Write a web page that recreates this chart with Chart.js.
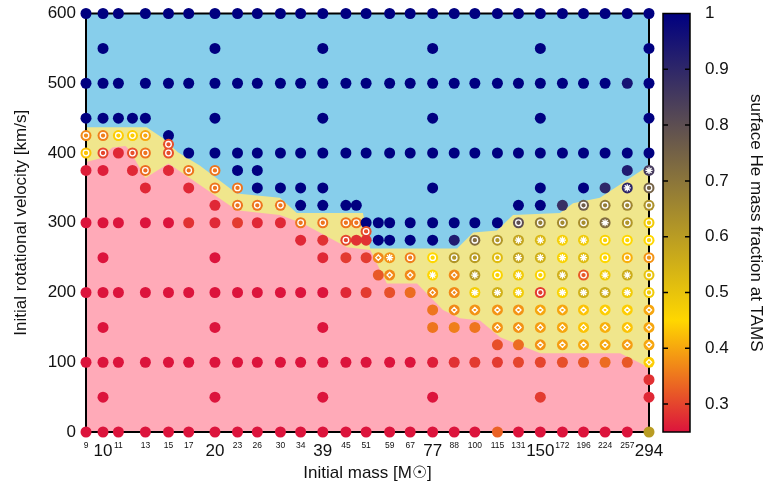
<!DOCTYPE html>
<html>
<head>
<meta charset="utf-8">
<script src="https://cdn.jsdelivr.net/npm/chart.js@4.4.1/dist/chart.umd.min.js"></script>
<style>
  html, body { margin: 0; padding: 0; background: #fff; }
</style>
</head>
<body>
<canvas id="chart" width="766" height="486"></canvas>
<script>
'use strict';

const _ = null;

// mass columns of the model grid (Msun)
const massGrid = [9, 10, 11, 12, 13, 15, 17, 20, 23, 26, 30, 34, 39, 45, 48, 51, 55, 59, 67, 77, 88, 100, 115, 131, 150, 172, 196, 224, 257, 294];
// labelled ticks on the mass axis
const massTicks = [9, 10, 11, 13, 15, 17, 20, 23, 26, 30, 34, 39, 45, 51, 59, 67, 77, 88, 100, 115, 131, 150, 172, 196, 224, 257, 294];
const bigTicks = [10, 20, 39, 77, 150, 294];
const heTicks = [0.3, 0.4, 0.5, 0.6, 0.7, 0.8, 0.9, 1];

// surface He mass fraction at TAMS, one array per initial velocity (columns = massGrid)
// marks: '.' plain, 'f' ring, 's' star, 'd' diamond
const he600 = [1, 1, 1, _, 1, 1, 1, 1, 1, 1,  1, 1, 1, 1, _, 1, _, 1, 1, 1,  1, 1, 1, 1, 1, 1, 1, 1, 1, 1];
const he550 = [_, 1, _, _, _, _, _, 1, _, _,  _, _, 1, _, _, _, _, _, _, 1,  _, _, _, _, 1, _, _, _, _, 1];
const he500 = [1, 1, 1, _, 1, 1, 1, 1, 1, 1,  1, 1, 1, 1, _, 1, _, 1, 1, 1,  1, 1, 1, 1, 1, 1, 1, 1, .95, 1];
const he450 = [1, 1, 1, 1, 1, _, _, 1, _, _,  _, _, 1, _, _, _, _, _, _, 1,  _, _, _, _, 1, _, _, _, _, 1];
const he425 = [.37, .36, .44, .44, .40, 1, _, _, _, _,  _, _, _, _, _, _, _, _, _, _,  _, _, _, _, _, _, _, _, _, _];
const mk425 = 'fffff';
const he412 = [_, _, _, _, _, .31, _, _, _, _,  _, _, _, _, _, _, _, _, _, _,  _, _, _, _, _, _, _, _, _, _];
const mk412 = '.....f';
const he400 = [.43, .30, .27, .31, .35, .31, 1, 1, 1, 1,  1, 1, 1, 1, _, 1, _, 1, 1, 1,  1, 1, 1, 1, 1, 1, 1, 1, 1, 1];
const mk400 = 'ff.fff';
const he375 = [.26, .26, _, .27, .34, .27, .35, .35, 1, 1,  _, _, _, _, _, _, _, _, _, _,  _, _, _, _, _, _, _, _, .93, .85];
const mk375 = '....f.ff..' + '..........' + '.........s';
const he350 = [_, _, _, _, .27, _, .27, .35, .35, 1,  1, 1, 1, _, _, _, _, _, _, 1,  _, _, _, _, 1, _, 1, .90, .90, .75];
const mk350 = '.......ff.' + '..........' + '........sf';
const he325 = [_, _, _, _, _, _, _, .27, .35, .35,  .35, 1, 1, 1, 1, _, _, _, _, _,  _, _, _, 1, 1, .88, .76, .68, .66, .63];
const mk325 = '........ff' + 'f.........' + '......ffff';
const he300 = [.25, .25, .25, _, .25, .25, .28, .27, .29, .27,  .27, .35, .35, .35, .35, 1, 1, 1, 1, 1,  1, 1, 1, .80, .68, .65, .64, .72, .62, .48];
const mk300 = '..........' + '.ffff.....' + '...ffffsff';
const he287 = [_, _, _, _, _, _, _, _, _, _,  _, _, _, _, _, .31, _, _, _, _,  _, _, _, _, _, _, _, _, _, _];
const mk287 = '..........' + '.....f';
const he275 = [_, _, _, _, _, _, _, _, _, _,  _, .27, .28, .30, .28, .28, 1, 1, 1, 1,  .93, .72, .62, .58, .53, .47, .48, .46, .45, .45];
const mk275 = '..........' + '...f......' + '.ffssssfff';
const he250 = [_, .25, _, _, _, _, _, .25, _, _,  _, _, .27, .29, _, .29, .37, .38, .36, .45,  .62, .60, .52, .58, .55, .46, .52, .45, .41, .38];
const mk250 = '..........' + '......dsff' + 'fffssssfff';
const he225 = [_, _, _, _, _, _, _, _, _, _,  _, _, _, _, _, _, .32, .37, .37, .45,  .37, .60, .46, .48, .46, .55, .32, .48, .56, .50];
const mk225 = '..........' + '.......dds' + 'dsfsfsfssf';
const he200 = [.25, .25, .25, _, .25, .25, .25, .25, .25, .25,  .25, .25, .25, .27, _, .29, _, .31, .34, .37,  .37, .47, .55, .48, .29, .46, .55, .56, .48, .48];
const mk200 = '..........' + '.........d' + 'dsssfssssf';
const he175 = [_, _, _, _, _, _, _, _, _, _,  _, _, _, _, _, _, _, _, _, .35,  .37, .38, .38, .38, .40, .40, .43, .44, .44, .40];
const mk175 = '..........' + '..........' + 'dddddddddd';
const he150 = [_, .25, _, _, _, _, _, .25, _, _,  _, _, .25, _, _, _, _, _, _, .35,  .36, .35, .38, .38, .39, .40, .43, .41, .43, .40];
const mk150 = '..........' + '..........' + '..dddddddd';
const he125 = [_, _, _, _, _, _, _, _, _, _,  _, _, _, _, _, _, _, _, _, _,  _, _, .31, .34, .38, .39, .40, .40, .39, .40];
const mk125 = '..........' + '..........' + '....dddddd';
const he100 = [.25, .25, .25, _, .25, .25, .25, .25, .25, .25,  .25, .25, .25, .25, _, .25, _, .25, .25, .26,  .28, .29, .29, .30, .30, .31, .32, .34, .32, .44];
const mk100 = '..........' + '..........' + '.........d';
const he75  = [_, _, _, _, _, _, _, _, _, _,  _, _, _, _, _, _, _, _, _, _,  _, _, _, _, _, _, _, _, _, .28];
const he50  = [_, .25, _, _, _, _, _, .25, _, _,  _, _, .25, _, _, _, _, _, _, .25,  _, _, _, _, .29, _, _, _, _, .27];
const he0   = [.25, .25, .25, _, .25, .25, .25, .25, .25, .25,  .25, .25, .25, .25, _, .25, _, .25, .25, .25,  .25, .25, .33, .25, .25, .25, .25, .25, .25, .60];

const velRows = [600, 550, 500, 450, 425, 412.5, 400, 375, 350, 325, 300, 287.5, 275, 250, 225, 200, 175, 150, 125, 100, 75, 50, 0];
const heRows = [he600, he550, he500, he450, he425, he412, he400, he375, he350, he325, he300, he287, he275, he250, he225, he200, he175, he150, he125, he100, he75, he50, he0];
const markRows = ['', '', '', '', mk425, mk412, mk400, mk375, mk350, mk325, mk300, mk287, mk275, mk250, mk225, mk200, mk175, mk150, mk125, mk100, '', '', ''];

// region boundaries (mass, velocity)
const chemMass = [9, 13.1, 14.5, 15.9, 18.2, 22.9, 29.9, 33.2, 50, 52.3, 89.6, 99, 114.7, 126.7, 169.5, 183.7, 217, 294];
const chemVel  = [437, 437, 421, 401, 382, 342, 336, 314, 314, 263, 263, 286, 289, 311, 314, 328, 336, 382];
const normMass = [9, 9.8, 10.6, 11.5, 11.8, 13, 15, 22.9, 29.9, 34.5, 45.3, 52.3, 58, 69.9, 82.1, 91.2, 103.2, 117, 150, 246, 278, 294];
const normVel  = [387, 392, 408, 410, 404, 364, 385, 318, 311, 299, 265, 261, 213, 213, 175, 163, 160, 136, 113, 113, 99, 92];

// colour map: 0.25 crimson -> 0.45 gold -> 1.0 navy
const CRIMSON = [220, 20, 60], GOLD = [255, 215, 0], NAVY = [0, 0, 128];
const HE_MIN = 0.25, HE_MID = 0.45, HE_MAX = 1.0;

const mix = function(a, b, t) {
    return 'rgb(' + a.map((v, i) => Math.round(v + (b[i] - v) * t)).join(',') + ')';
};

const heColor = function(f) {
    f = Math.min(HE_MAX, Math.max(HE_MIN, f));
    if (f <= HE_MID) return mix(CRIMSON, GOLD, (f - HE_MIN) / (HE_MID - HE_MIN));
    return mix(GOLD, NAVY, (f - HE_MID) / (HE_MAX - HE_MID));
};

// build point lists from the rows
const pts = [], ptColors = [];
const marks = { f: [], s: [], d: [] };
velRows.forEach((v, r) => {
    heRows[r].forEach((he, c) => {
        if (he === null) return;
        pts.push({ x: massGrid[c], y: v });
        ptColors.push(heColor(he));
        const m = markRows[r].charAt(c);
        if (marks[m]) marks[m].push({ x: massGrid[c], y: v });
    });
});

const area = function(xs, ys, color, order) {
    return {
        type: 'line',
        label: 'area',
        data: xs.map((m, i) => ({ x: m, y: ys[i] })),
        showLine: true,
        fill: 'start',
        backgroundColor: color,
        borderWidth: 0,
        pointRadius: 0,
        tension: 0,
        order: order
    };
};

const overlay = function(data, style, radius, fillColor) {
    return {
        label: 'mark',
        data: data,
        pointStyle: style,
        pointRadius: radius,
        pointBackgroundColor: fillColor,
        pointBorderColor: '#fff',
        pointBorderWidth: 1.3,
        clip: false,
        order: 1
    };
};

const FONT = '"Liberation Sans", Arial, Helvetica, sans-serif';
Chart.defaults.font.family = FONT;
Chart.defaults.color = '#111';

// frame drawn under the points, colour bar drawn at the end
const framePlugin = {
    id: 'frame',
    beforeDatasetDraw(chart, args) {
        if (chart.data.datasets[args.index].label !== 'points') return;
        const { left, right, top, bottom } = chart.chartArea;
        const ctx = chart.ctx;
        ctx.save();
        ctx.strokeStyle = '#000';
        ctx.lineWidth = 2;
        ctx.strokeRect(left, top, right - left, bottom - top);
        ctx.restore();
    },
    afterDraw(chart) {
        const cb = chart.scales.cb;
        const ctx = chart.ctx;
        const x0 = chart.chartArea.right + 14, w = 27;
        const yTop = cb.getPixelForValue(HE_MAX), yBot = cb.getPixelForValue(HE_MIN);
        const grad = ctx.createLinearGradient(0, yBot, 0, yTop);
        grad.addColorStop(0, heColor(HE_MIN));
        grad.addColorStop((HE_MID - HE_MIN) / (HE_MAX - HE_MIN), heColor(HE_MID));
        grad.addColorStop(1, heColor(HE_MAX));
        ctx.save();
        ctx.fillStyle = grad;
        ctx.fillRect(x0, yTop, w, yBot - yTop);
        ctx.strokeStyle = '#000';
        ctx.lineWidth = 1.5;
        ctx.strokeRect(x0, yTop, w, yBot - yTop);
        ctx.beginPath();
        heTicks.slice(0, -1).forEach(t => {
            const y = cb.getPixelForValue(t);
            ctx.moveTo(x0, y); ctx.lineTo(x0 + 5, y);
            ctx.moveTo(x0 + w - 5, y); ctx.lineTo(x0 + w, y);
        });
        ctx.stroke();
        ctx.restore();
    }
};

new Chart(document.getElementById('chart'), {
    type: 'scatter',
    data: {
        datasets: [
            overlay(marks.f, 'circle', 2.8, 'rgba(0,0,0,0)'),
            overlay(marks.s, 'star', 3.6, '#fff'),
            overlay(marks.d, 'rectRot', 2.6, 'rgba(0,0,0,0)'),
            {
                label: 'points',
                data: pts,
                pointRadius: 5.5,
                pointBackgroundColor: ptColors,
                pointBorderWidth: 0,
                clip: false,
                order: 2
            },
            area(normMass, normVel, 'rgb(255,170,184)', 10),
            area(chemMass, chemVel, 'rgb(240,230,140)', 20),
            area([9, 294], [600, 600], 'rgb(135,206,235)', 30)
        ]
    },
    options: {
        responsive: false,
        animation: false,
        events: [],
        layout: { padding: { top: 13.5, left: 0, right: 0, bottom: 0 }, autoPadding: false },
        plugins: { legend: { display: false }, tooltip: { enabled: false } },
        scales: {
            x: {
                type: 'logarithmic',
                position: 'bottom',
                min: 9,
                max: 294,
                afterBuildTicks: s => { s.ticks = massTicks.map(v => ({ value: v })); },
                afterFit: s => { s.height = 54; },
                // tick length only spaces the labels, the grid itself is hidden
                grid: { display: false, drawTicks: true, tickLength: 8 },
                border: { display: false },
                ticks: {
                    autoSkip: false,
                    maxRotation: 0,
                    minRotation: 0,
                    padding: 1,
                    color: '#111',
                    font: c => ({ size: bigTicks.includes(c.tick && c.tick.value) ? 17 : 8.5 }),
                    callback: v => String(v)
                },
                title: { display: true, text: 'Initial mass [M\u2609]', font: { size: 17 }, color: '#111', padding: { bottom: 2 } }
            },
            y: {
                position: 'left',
                min: 0,
                max: 600,
                afterFit: s => { s.width = 86; },
                grid: { display: false, drawTicks: true, tickLength: 10 },
                border: { display: false },
                ticks: { stepSize: 100, padding: 0, font: { size: 17 }, color: '#111' },
                title: { display: true, text: 'Initial rotational velocity [km/s]', font: { size: 17 }, color: '#111', padding: { top: 11 } }
            },
            cb: {
                axis: 'y',
                position: 'right',
                min: HE_MIN,
                max: HE_MAX,
                afterBuildTicks: s => { s.ticks = heTicks.map(v => ({ value: v })); },
                afterFit: s => { s.width = 117; },
                grid: { display: false, drawTicks: true, tickLength: 53 },
                border: { display: false },
                ticks: { padding: 3, font: { size: 17 }, color: '#111', callback: v => String(+v.toFixed(1)) },
                title: { display: true, text: 'surface He mass fraction at TAMS', font: { size: 17 }, color: '#111', padding: { top: 0 } }
            }
        }
    },
    plugins: [framePlugin]
});
</script>
</body>
</html>
